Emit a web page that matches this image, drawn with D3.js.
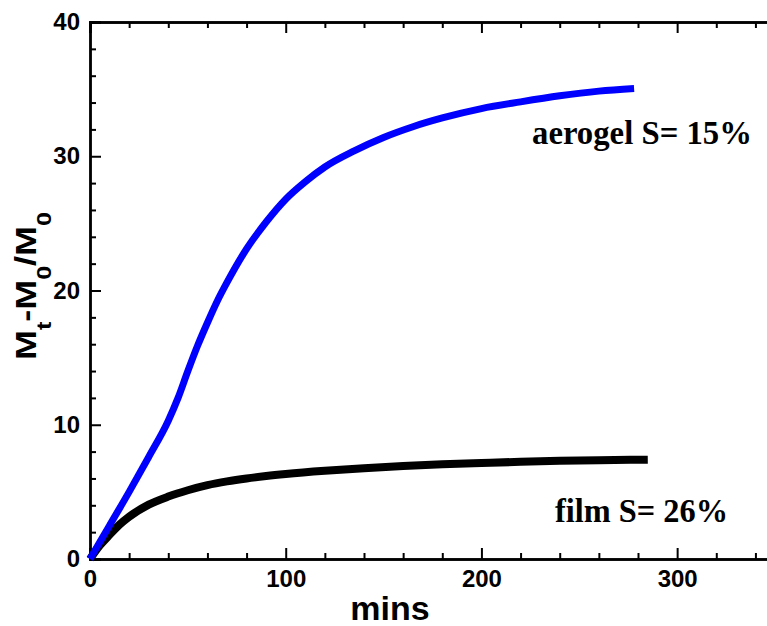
<!DOCTYPE html>
<html>
<head>
<meta charset="utf-8">
<script src="https://cdn.jsdelivr.net/npm/d3@7"></script>
<style>
  body { margin: 0; background: #fff; }
  svg { display: block; }
</style>
</head>
<body>
<div id="chart"></div>
<script>
// data
var aerogelTime = [0, 10, 20, 30, 40, 45, 50, 55, 60, 65, 70, 80, 90, 100, 110, 120, 135, 150, 165, 180, 200, 220, 240, 260, 278];
var aerogelGain = [0, 2.5, 5.0, 7.6, 10.3, 12.0, 14.0, 15.9, 17.6, 19.2, 20.6, 23.1, 25.1, 26.8, 28.1, 29.2, 30.4, 31.4, 32.2, 32.85, 33.55, 34.05, 34.5, 34.85, 35.05];
var filmTime = [0, 5, 10, 15, 20, 30, 40, 50, 60, 70, 80, 90, 100, 120, 140, 160, 180, 200, 220, 240, 260, 285];
var filmGain = [0, 1.0, 1.8, 2.55, 3.15, 4.05, 4.65, 5.12, 5.5, 5.78, 6.0, 6.18, 6.33, 6.57, 6.76, 6.92, 7.05, 7.15, 7.24, 7.31, 7.36, 7.4];
var xMajor = [0, 100, 200, 300];
var yMajor = [0, 10, 20, 30, 40];

var W = 767, H = 626;
var plotLeft = 90, plotTop = 22, plotBottom = 559, plotRight = 775;

var svg = d3.select("#chart")
  .append("svg")
  .attr("width", W)
  .attr("height", H);

var x = d3.scaleLinear().domain([0, 350]).range([plotLeft, plotRight]);
var y = d3.scaleLinear().domain([0, 40]).range([plotBottom, plotTop]);

var xMinor = d3.range(0, 351, 20).filter(function (d) { return d % 100 != 0; });
var yMinor = d3.range(0, 41, 2).filter(function (d) { return d % 10 != 0; });

// bottom axis, ticks inward
var gx = svg.append("g").attr("transform", "translate(0," + plotBottom + ")");
gx.call(d3.axisBottom(x).tickValues(xMajor).tickSize(-11).tickPadding(8).tickFormat(d3.format("d")));
gx.append("g").call(d3.axisBottom(x).tickValues(xMinor).tickSize(-6).tickFormat(""));

// top axis, no labels
var gt = svg.append("g").attr("transform", "translate(0," + plotTop + ")");
gt.call(d3.axisTop(x).tickValues(xMajor).tickSize(-11).tickFormat(""));
gt.append("g").call(d3.axisTop(x).tickValues(xMinor).tickSize(-6).tickFormat(""));

// left axis
var gy = svg.append("g").attr("transform", "translate(" + plotLeft + ",0)");
gy.call(d3.axisLeft(y).tickValues(yMajor).tickSize(-11).tickPadding(10).tickFormat(d3.format("d")));
gy.append("g").call(d3.axisLeft(y).tickValues(yMinor).tickSize(-6).tickFormat(""));

svg.selectAll(".domain").attr("stroke", "#000").attr("stroke-width", 2.4);
svg.selectAll(".tick line").attr("stroke", "#000").attr("stroke-width", 2);
svg.selectAll(".tick text")
  .attr("fill", "#000")
  .style("font-family", "'Liberation Sans', Arial, sans-serif")
  .style("font-weight", "bold")
  .style("font-size", "24px");
gx.selectAll(".tick text").attr("dy", "0.85em");

// curves
var line = d3.line()
  .x(function (d) { return x(d[0]); })
  .y(function (d) { return y(d[1]); })
  .curve(d3.curveMonotoneX);

svg.append("path")
  .datum(d3.zip(filmTime, filmGain))
  .attr("fill", "none")
  .attr("stroke", "#000")
  .attr("stroke-width", 8)
  .attr("d", line);

svg.append("path")
  .datum(d3.zip(aerogelTime, aerogelGain))
  .attr("fill", "none")
  .attr("stroke", "#0000ff")
  .attr("stroke-width", 7)
  .attr("d", line);

// annotations
svg.append("text")
  .attr("x", 532).attr("y", 144)
  .attr("textLength", 220).attr("lengthAdjust", "spacingAndGlyphs")
  .style("font-family", "'Liberation Serif', 'Times New Roman', serif")
  .style("font-weight", "bold").style("font-size", "33px")
  .text("aerogel S= 15%");

svg.append("text")
  .attr("x", 555).attr("y", 522)
  .attr("textLength", 173).attr("lengthAdjust", "spacingAndGlyphs")
  .style("font-family", "'Liberation Serif', 'Times New Roman', serif")
  .style("font-weight", "bold").style("font-size", "33px")
  .text("film S= 26%");

// axis titles
svg.append("text")
  .attr("x", 390).attr("y", 620)
  .style("text-anchor", "middle")
  .style("font-family", "'Liberation Sans', Arial, sans-serif")
  .style("font-weight", "bold").style("font-size", "34px")
  .text("mins");

var yt = svg.append("text")
  .attr("transform", "translate(36,286) rotate(-90)")
  .attr("textLength", 148).attr("lengthAdjust", "spacingAndGlyphs")
  .style("text-anchor", "middle")
  .style("font-family", "'Liberation Sans', Arial, sans-serif")
  .style("font-weight", "bold").style("font-size", "30px");
yt.append("tspan").text("M");
yt.append("tspan").attr("dy", 15).style("font-size", "21px").text("t");
yt.append("tspan").attr("dy", -15).text("-M");
yt.append("tspan").attr("dy", 15).style("font-size", "21px").text("0");
yt.append("tspan").attr("dy", -15).text("/M");
yt.append("tspan").attr("dy", 15).style("font-size", "21px").text("0");
</script>
</body>
</html>
